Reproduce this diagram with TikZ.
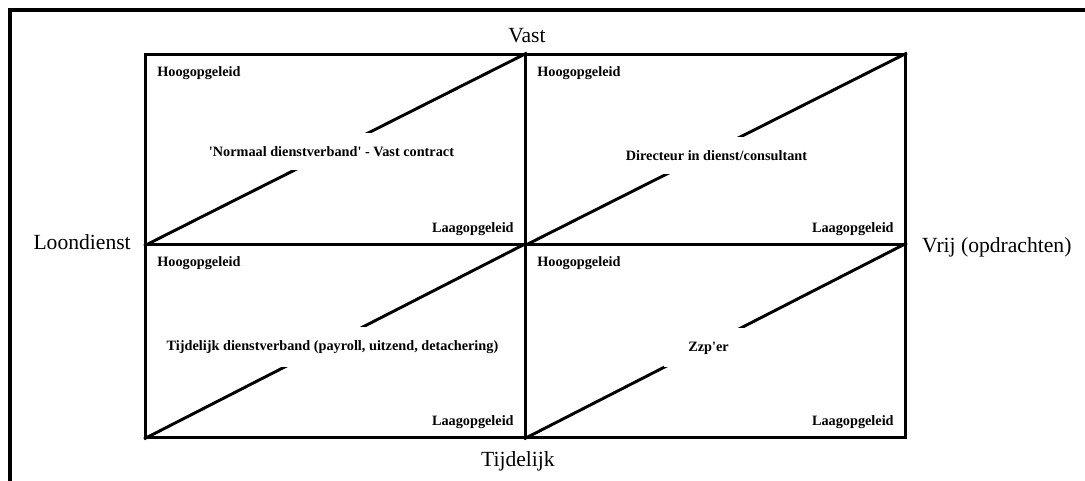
\documentclass[tikz,border=0pt]{standalone}
\usepackage{fontspec}
\setmainfont{Liberation Serif}
\usepackage{tikz}
\usetikzlibrary{calc}
\tikzset{
  frame/.style={draw=black, line width=3pt},
  cell/.style={draw=black, line width=2.2pt, inner sep=0pt, minimum width=285pt},
  diag/.style={draw=black, line width=2.2pt},
  axis/.style={font=\fontsize{16.2}{18}\selectfont, inner sep=0pt},
  tag/.style={font=\bfseries\fontsize{10.7}{12}\selectfont, inner sep=0pt},
  core/.style={tag, fill=white, inner xsep=3pt, inner ysep=10pt, minimum width=66pt},
}
\begin{document}
\begin{tikzpicture}[x=0.75pt,y=-0.75pt]
  \useasboundingbox (0,0) rectangle (1085,481);
  % outer frame, only top and left edge
  \coordinate (FL) at (10,481);
  \coordinate (FC) at (10,10);
  \coordinate (FR) at (1085,10);
  \draw[frame] (FL) -- (FC) -- (FR);
  % the four cells
  \node[cell, minimum height=142.5pt, anchor=north west] (tl) at (144,53) {};
  \node[cell, minimum height=142.5pt, anchor=north west] (tr) at (524,53) {};
  \node[cell, minimum height=144.75pt, anchor=north west] (bl) at (144,243) {};
  \node[cell, minimum height=144.75pt, anchor=north west] (br) at (524,243) {};
  \foreach \c in {tl,tr,bl,br}{
    \draw[diag] (\c.south west) -- (\c.north east);
    \node[tag, anchor=west] (\c-hoog) at ($(\c.north west)+(13,20)$) {Hoogopgeleid};
    \node[tag, anchor=east] (\c-laag) at ($(\c.south east)+(-13,-17)$) {Laagopgeleid};
  }
  % cell texts, white box breaks the diagonal
  \node[core] (tl-txt) at ($(tl.center)+(-4,2)$) {\textquotesingle Normaal dienstverband\textquotesingle{} - Vast contract};
  \node[core] (tr-txt) at ($(tr.center)+(1,6)$) {Directeur in dienst/consultant};
  \node[core] (bl-txt) at ($(bl.center)+(-3,6)$) {Tijdelijk dienstverband (payroll, uitzend, detachering)};
  \node[core] (br-txt) at ($(br.center)+(-7,7)$) {Zzp\textquotesingle er};
  % axis labels
  \node[axis, anchor=base] (vast) at ($(tl.north east)+(0,-10)$) {Vast};
  \node[axis, anchor=base] (tijd) at ($(bl.south east)+(-9,28)$) {Tijdelijk};
  \node[axis, anchor=base east] (loon) at ($(tl.south west)+(-13,4)$) {Loondienst};
  \node[axis, anchor=base west] (vrij) at ($(tr.south east)+(15,7)$) {Vrij (opdrachten)};
\end{tikzpicture}
\end{document}
